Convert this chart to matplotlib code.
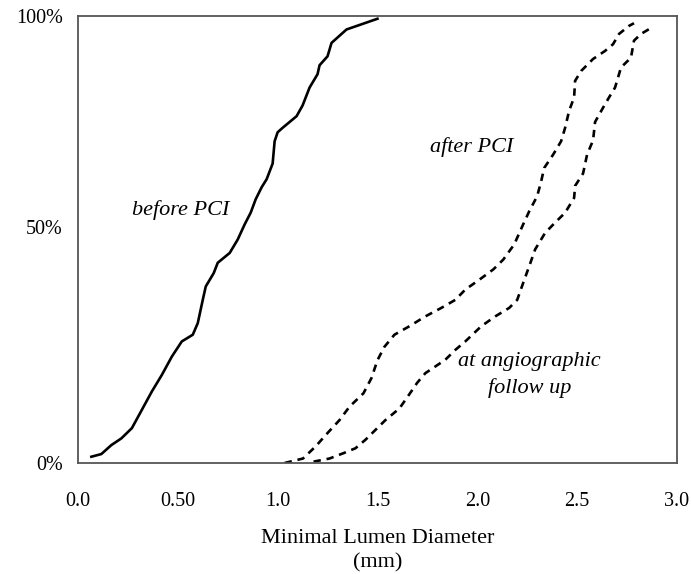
import matplotlib
matplotlib.use("Agg")
import matplotlib.pyplot as plt
import matplotlib.transforms as mtransforms

# Кумулятивні криві мінімального діаметра просвіту (мм, %)
before_x = [0.067, 0.117, 0.167, 0.217, 0.27, 0.32, 0.37, 0.42, 0.47, 0.52, 0.575, 0.6,
            0.625, 0.64, 0.68, 0.70, 0.76, 0.80, 0.835, 0.865, 0.89, 0.92, 0.945, 0.975,
            0.985, 1.0, 1.025, 1.095, 1.125, 1.16, 1.2, 1.21, 1.25, 1.27, 1.345, 1.5]
before_y = [1.4, 2.0, 4.0, 5.5, 7.8, 11.9, 16.0, 19.7, 23.8, 27.2, 28.7, 31.3,
            36.5, 39.5, 42.5, 44.8, 47.0, 50.0, 53.4, 56.0, 59.0, 61.7, 63.5, 67.0,
            72.0, 74.0, 75.0, 77.6, 80.0, 84.0, 87.0, 89.0, 91.0, 94.0, 97.0, 99.4]

after_x = [1.035, 1.127, 1.19, 1.25, 1.31, 1.36, 1.43, 1.47, 1.50, 1.535, 1.585, 1.66,
           1.74, 1.82, 1.89, 1.94, 2.01, 2.08, 2.13, 2.185, 2.23, 2.26, 2.30, 2.32,
           2.335, 2.38, 2.42, 2.44, 2.46, 2.485, 2.49, 2.52, 2.58, 2.64, 2.68, 2.71,
           2.76, 2.785]
after_y = [0.0, 1.0, 3.7, 6.7, 9.6, 12.6, 15.6, 19.0, 23.0, 26.0, 28.7, 30.6,
           32.8, 34.7, 36.5, 38.8, 41.0, 43.3, 45.5, 48.9, 53.4, 56.3, 59.7, 63.0,
           66.0, 69.0, 72.0, 75.0, 78.8, 81.8, 85.5, 87.7, 90.4, 92.2, 93.7, 96.0,
           97.8, 98.4]

follow_x = [1.18, 1.26, 1.33, 1.39, 1.44, 1.49, 1.54, 1.61, 1.66, 1.70, 1.74, 1.79,
            1.84, 1.89, 1.94, 2.02, 2.09, 2.16, 2.20, 2.23, 2.26, 2.29, 2.34, 2.39,
            2.44, 2.485, 2.49, 2.53, 2.55, 2.58, 2.59, 2.63, 2.66, 2.69, 2.72, 2.77,
            2.785, 2.82, 2.88]
follow_y = [0.3, 1.0, 2.2, 3.3, 5.2, 7.4, 9.6, 12.2, 15.4, 18.0, 20.1, 21.6,
            23.1, 25.3, 27.2, 30.6, 32.8, 34.7, 36.5, 40.3, 44.0, 47.8, 51.5, 53.8,
            56.0, 59.3, 62.0, 64.8, 69.0, 72.2, 76.3, 79.5, 81.8, 84.0, 88.5, 90.7,
            94.5, 96.0, 97.6]

x_ticks = [0.0, 0.5, 1.0, 1.5, 2.0, 2.5, 3.0]
x_tick_labels = ["0.0", "0.50", "1.0", "1.5", "2.0", "2.5", "3.0"]
y_ticks = [0, 50, 100]
y_tick_labels = ["0%", "50%", "100%"]

plt.rcParams["font.family"] = ["Liberation Serif", "DejaVu Serif"]

fig = plt.figure(figsize=(6.92, 5.74), dpi=100)
ax = fig.add_axes([0.1127, 0.1934, 0.8655, 0.7786])

dash = (0, (2.8, 2.2))
ax.plot(before_x, before_y, color="black", lw=1.9, solid_joinstyle="round")
ax.plot(after_x, after_y, color="black", lw=1.9, linestyle=dash)
ax.plot(follow_x, follow_y, color="black", lw=1.9, linestyle=dash)

ax.set_xlim(0, 3.0)
ax.set_ylim(0, 100)
ax.set_xticks(x_ticks)
ax.set_xticklabels(x_tick_labels, fontsize=14.5)
ax.set_yticks(y_ticks)
ax.set_yticklabels(y_tick_labels, fontsize=14.5)
ax.tick_params(axis="x", length=0, pad=21)
ax.tick_params(axis="y", length=0, pad=11)
# у оригіналі підпис 50% трохи вище середини
lbl = ax.get_yticklabels()[1]
lbl.set_transform(lbl.get_transform() + mtransforms.ScaledTranslation(0, 13 / 100, fig.dpi_scale_trans))
for s in ax.spines.values():
    s.set_color("#555555")
    s.set_linewidth(1.3)

ax.set_xlabel("Minimal Lumen Diameter\n(mm)", fontsize=16, labelpad=13, linespacing=1.35)

# Підписи кривих
ax.text(0.515, 56.7, "before PCI", fontsize=16, style="italic", ha="center", va="center")
ax.text(1.97, 70.7, "after PCI", fontsize=16, style="italic", ha="center", va="center")
ax.text(2.26, 22.6, "at angiographic", fontsize=16, style="italic", ha="center", va="center")
ax.text(2.265, 16.8, "follow up", fontsize=16, style="italic", ha="center", va="center")

fig.savefig("out.png", dpi=100)
